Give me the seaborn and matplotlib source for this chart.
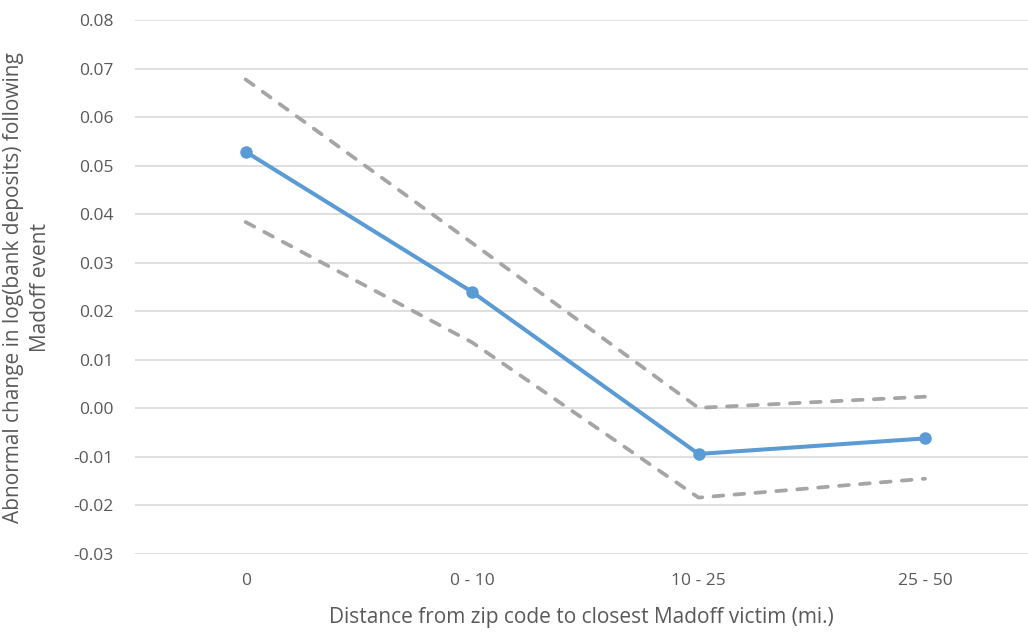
import pandas as pd
import seaborn as sns
import matplotlib.pyplot as plt

# values
distance = ["0", "0 - 10", "10 - 25", "25 - 50"]
estimate = [0.0529, 0.0240, -0.0094, -0.0062]
upper = [0.0678, 0.0341, 0.0001, 0.0024]
lower = [0.0384, 0.0136, -0.0184, -0.0145]

df = pd.DataFrame({"distance": distance, "estimate": estimate,
                   "upper": upper, "lower": lower})

sns.set_style("white")
plt.rcParams["font.family"] = ["Open Sans", "DejaVu Sans"]

fig = plt.figure(figsize=(10.28, 6.33), dpi=100)
ax = fig.add_axes([0.131, 0.125, 0.869, 0.843])

grey = "#A5A5A5"
blue = "#5B9BD5"
text_col = "#595959"

for col in ["upper", "lower"]:
    sns.lineplot(data=df, x="distance", y=col, ax=ax, color=grey,
                 linewidth=2.7, sort=False)
    ax.lines[-1].set_dashes([2.6, 3.0])
    ax.lines[-1].set_dash_capstyle("round")

sns.lineplot(data=df, x="distance", y="estimate", ax=ax, color=blue,
             linewidth=2.9, marker="o", markersize=9, markeredgewidth=0,
             sort=False)

ax.set_ylim(-0.03, 0.08)
ax.set_xlim(-0.49, 3.455)
ax.set_yticks([i / 100 for i in range(-3, 9)])
ax.set_yticklabels([f"{i / 100:.2f}" for i in range(-3, 9)])
ax.grid(axis="y", color="#D9D9D9", linewidth=1.2)
ax.set_axisbelow(True)
for s in ax.spines.values():
    s.set_visible(False)
ax.tick_params(axis="both", length=0, labelsize=12.5, colors=text_col)
ax.tick_params(axis="x", pad=14)
ax.tick_params(axis="y", pad=15)

ax.set_xlabel("Distance from zip code to closest Madoff victim (mi.)",
              fontsize=15, color=text_col, labelpad=13)
ax.set_ylabel("Abnormal change in log(bank deposits) following\nMadoff event",
              fontsize=15, color=text_col, linespacing=1.35)
ax.yaxis.set_label_coords(-0.094, 0.5)

plt.savefig("out.png", dpi=100)
plt.close()
